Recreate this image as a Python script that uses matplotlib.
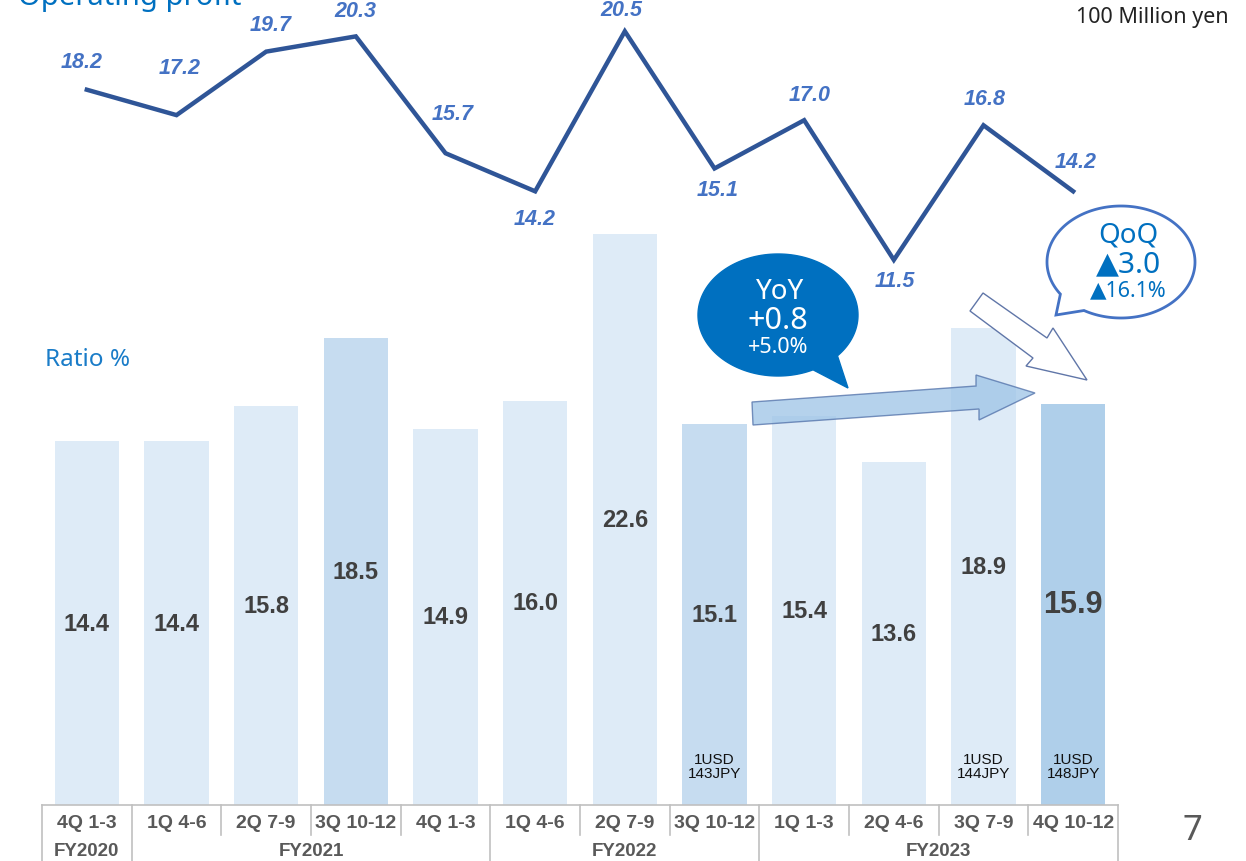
import numpy as np
import matplotlib
matplotlib.use('Agg')
import matplotlib.pyplot as plt
import matplotlib.transforms as mtransforms
from matplotlib.patches import Polygon

plt.rcParams['font.family'] = ['Liberation Sans', 'DejaVu Sans']

# data
quarters = ['4Q 1-3', '1Q 4-6', '2Q 7-9', '3Q 10-12', '4Q 1-3', '1Q 4-6',
            '2Q 7-9', '3Q 10-12', '1Q 1-3', '2Q 4-6', '3Q 7-9', '4Q 10-12']
fiscal_years = ['FY2020', 'FY2021', 'FY2022', 'FY2023']
fy_counts = [1, 4, 3, 4]
ratio = [14.4, 14.4, 15.8, 18.5, 14.9, 16.0, 22.6, 15.1, 15.4, 13.6, 18.9, 15.9]
op_profit = [18.2, 17.2, 19.7, 20.3, 15.7, 14.2, 20.5, 15.1, 17.0, 11.5, 16.8, 14.2]
fx_notes = {7: '1USD\n143JPY', 10: '1USD\n144JPY', 11: '1USD\n148JPY'}

W, H = 1246, 862
fig = plt.figure(figsize=(W / 100, H / 100), dpi=100)

def rect(x0, y0, x1, y1):
    # pixel box (top-left origin) -> figure fraction rect
    return [x0 / W, 1 - y1 / H, (x1 - x0) / W, (y1 - y0) / H]

x = np.arange(len(ratio))

# bars
ax = fig.add_axes(rect(42, 0, 1118, 806))
ax.set_xlim(-0.5, 11.5)
ax.set_ylim(0, 806 / 25.25)
ax.axis('off')
bar_colors = ['#deebf7'] * len(ratio)
bar_colors[3] = '#c6dcf0'
bar_colors[7] = '#c6dcf0'
bar_colors[11] = '#afcfea'
ax.bar(x, ratio, width=0.714, color=bar_colors, zorder=1)
for i, v in enumerate(ratio):
    fs = 22 if i == len(ratio) - 1 else 17
    ax.text(i, v / 2, f'{v:.1f}', ha='center', va='center', fontsize=fs,
            fontweight='bold', color='#404040')
for i, s in fx_notes.items():
    ax.text(i, 1.55, s, ha='center', va='center', fontsize=11, color='#111111',
            linespacing=1.0)

# operating profit line
ax2 = fig.add_axes(rect(42, 0, 1118, 806))
ax2.set_xlim(-0.5, 11.5)
ax2.set_ylim(-253 / 25.4, 553 / 25.4)
ax2.axis('off')
ax2.patch.set_visible(False)
ax2.plot(x, op_profit, color='#2f5597', lw=3.2, solid_joinstyle='miter', zorder=3)
label_dy = [28, 48, 27, 26, 40, -27, 22, -21, 26, -21, 27, 30]
label_dx = [-5, 3, 4, 0, 7, -1, -3, 3, 5, 1, 1, 2]
for i, v in enumerate(op_profit):
    ax2.annotate(f'{v:.1f}', (i, v), xytext=(label_dx[i], label_dy[i]),
                 textcoords='offset pixels', ha='center', va='center',
                 fontsize=15.5, fontweight='bold', fontstyle='italic', color='#4472c4')

# overlay in pixel coords
ov = fig.add_axes([0, 0, 1, 1])
ov.set_xlim(0, W)
ov.set_ylim(H, 0)
ov.axis('off')
ov.patch.set_visible(False)

# table below bars
tt = mtransforms.blended_transform_factory(ax.transData, ov.transData)
grid_c = '#c0c0c0'
ov.plot([-0.5, 11.5], [806, 806], color=grid_c, lw=1.2, transform=tt, clip_on=False)
bounds = np.cumsum([0] + fy_counts) - 0.5
for k in range(len(quarters) + 1):
    xe = k - 0.5
    full = xe in bounds
    ov.plot([xe, xe], [806, 862 if full else 836], color=grid_c, lw=1.2,
            transform=tt, clip_on=False)
for i, q in enumerate(quarters):
    ov.text(i, 824, q, transform=tt, ha='center', va='center', fontsize=14,
            fontweight='bold', color='#595959')
for k, name in enumerate(fiscal_years):
    xc = (bounds[k] + bounds[k + 1]) / 2
    ov.text(xc, 852, name, transform=tt, ha='center', va='center', fontsize=13.5,
            fontweight='bold', color='#595959')

# titles and notes
title_font = ['Noto Sans', 'DejaVu Sans']
ov.text(18, 5, 'Operating profit', ha='left', va='baseline', fontsize=21,
        color='#0070c0', family=title_font)
ov.text(1229, 23, '100 Million yen', ha='right', va='baseline', fontsize=15.5,
        color='#222222', family=title_font)
ov.text(45, 360, 'Ratio %', ha='left', va='center', fontsize=17.5,
        color='#1a7cc8', family=title_font)
ov.text(1192, 831, '7', ha='center', va='center', fontsize=25, color='#595959',
        family=title_font)


def bubble(cx, cy, a, b, t0, t1, tip):
    t = np.radians(np.linspace(t1, t0 + 360, 200))
    pts = np.column_stack([cx + a * np.cos(t), cy + b * np.sin(t)])
    return np.vstack([pts, [tip]])


# YoY bubble
ov.add_patch(Polygon(bubble(778, 316, 80, 61, 42, 64, (848, 389)), closed=True,
                     facecolor='#0070c0', edgecolor='#0070c0', lw=1, zorder=5))
ov.text(780, 292, 'YoY', ha='center', va='center', fontsize=20, color='white',
        family=title_font, zorder=6)
ov.text(778, 321, '+0.8', ha='center', va='center', fontsize=22, color='white',
        family=title_font, zorder=6)
ov.text(778, 348, '+5.0%', ha='center', va='center', fontsize=15.5, color='white',
        family=title_font, zorder=6)

# QoQ bubble
ov.add_patch(Polygon(bubble(1121, 263, 74, 56, 120, 145, (1056, 316)), closed=True,
                     facecolor='white', edgecolor='#4472c4', lw=2, zorder=5))
ov.text(1128, 236, 'QoQ', ha='center', va='center', fontsize=20, color='#0070c0',
        family=title_font, zorder=6)
ov.text(1128, 265, '▲3.0', ha='center', va='center', fontsize=21.5, color='#0070c0',
        family=title_font, zorder=6)
ov.text(1128, 291, '▲16.1%', ha='center', va='center', fontsize=15.5, color='#0070c0',
        family=title_font, zorder=6)

# block arrows
yoy_arrow = [(752, 403), (976, 387), (976, 376), (1035, 394), (979, 421),
             (979, 410), (753, 426)]
ov.add_patch(Polygon(yoy_arrow, closed=True, facecolor='#9dc3e6', alpha=0.75,
                     edgecolor='#4f6fa8', lw=1, zorder=4))
qoq_arrow = [(983, 294), (1047, 339), (1053, 329), (1087, 381), (1026, 367),
             (1033, 359), (970, 312)]
ov.add_patch(Polygon(qoq_arrow, closed=True, facecolor='white',
                     edgecolor='#6076a8', lw=1, zorder=4))

fig.savefig('out.png', dpi=100)
